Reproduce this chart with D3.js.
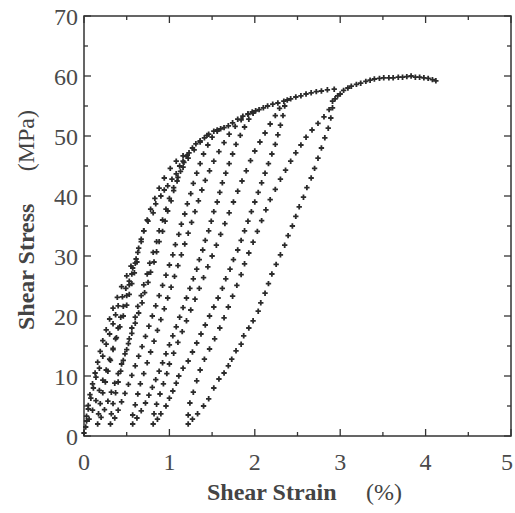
<!DOCTYPE html>
<html>
<head>
<meta charset="utf-8">
<script src="https://cdn.jsdelivr.net/npm/d3@7"></script>
<style>
  html, body { margin: 0; padding: 0; background: #fff; }
  svg { display: block; }
  .tick-label { font-family: "Liberation Serif", "Times New Roman", serif; font-size: 24px; fill: #4a4a4a; }
  .axis-title { font-family: "Liberation Serif", "Times New Roman", serif; font-size: 24px; fill: #444; }
</style>
</head>
<body>
<svg id="chart" width="515" height="513"></svg>
<script>
// Data: [shear strain (%), shear stress (MPa)]
const envelope = [
  [0.0, 0.5], [0.03, 2.5], [0.05, 4.5], [0.08, 6.3], [0.11, 8], [0.14, 9.8], [0.18, 11.3], [0.22, 13.3],
  [0.26, 15.3], [0.3, 17], [0.34, 18.7], [0.37, 20.2], [0.4, 21.7], [0.45, 23.2], [0.49, 24.6], [0.53, 25.8],
  [0.57, 28], [0.61, 29.5], [0.64, 31.3], [0.67, 32.8], [0.7, 34.2], [0.75, 35.8], [0.81, 37.2], [0.84, 38.7],
  [0.9, 40], [0.94, 41], [0.98, 41.7], [1.03, 42.8], [1.08, 43.7], [1.12, 45], [1.16, 45.8], [1.2, 46.6],
  [1.23, 47.2], [1.27, 48], [1.31, 48.7], [1.36, 49.2], [1.41, 49.7], [1.46, 50.3], [1.52, 50.8], [1.56, 51],
  [1.6, 51.2], [1.64, 51.4], [1.69, 51.7], [1.74, 52.2], [1.8, 52.8], [1.86, 53.3], [1.92, 53.7], [1.97, 54],
  [2.01, 54.2], [2.05, 54.4], [2.1, 54.7], [2.15, 55], [2.21, 55.3], [2.27, 55.5], [2.34, 55.8], [2.38, 56],
  [2.42, 56.2], [2.48, 56.5], [2.54, 56.7], [2.6, 57], [2.66, 57.2], [2.72, 57.4], [2.78, 57.5], [2.85, 57.7],
  [2.93, 57.8], [3.0, 57], [3.04, 57.6], [3.09, 58], [3.13, 58.3], [3.19, 58.6], [3.24, 58.8], [3.3, 59.1],
  [3.35, 59.3], [3.4, 59.5], [3.46, 59.6], [3.51, 59.7], [3.57, 59.7], [3.62, 59.7], [3.68, 59.8], [3.73, 59.8],
  [3.78, 59.9], [3.83, 60], [3.88, 59.8], [3.93, 59.8], [3.98, 59.7], [4.03, 59.6], [4.08, 59.4], [4.12, 59.2]
];

const loop0Left = [
  [0.02, 1.5], [0.03, 3.3], [0.05, 5.1], [0.07, 6.9], [0.1, 8.7], [0.13, 10.5], [0.16, 12.3], [0.19, 14.1],
  [0.22, 15.9], [0.26, 17.7], [0.3, 19.5], [0.34, 21.3], [0.39, 23.1], [0.44, 24.9], [0.5, 26.7], [0.55, 28.3]
];
const loop0Right = [
  [0.06, 2.8], [0.1, 4.3], [0.14, 5.9], [0.18, 7.6], [0.22, 9.3], [0.26, 11], [0.3, 12.8], [0.34, 14.6],
  [0.38, 16.4], [0.42, 18.2], [0.46, 20], [0.5, 21.8], [0.53, 23.6], [0.56, 25.4], [0.59, 27.2], [0.62, 29]
];

const loop1Left = [
  [0.16, 2], [0.17, 3.7], [0.19, 5.4], [0.22, 7.2], [0.25, 9], [0.28, 10.8], [0.31, 12.6], [0.34, 14.4],
  [0.37, 16.2], [0.4, 18], [0.43, 19.8], [0.46, 21.6], [0.5, 23.4], [0.53, 25.2], [0.56, 27], [0.6, 28.8],
  [0.63, 30.6], [0.67, 32.4], [0.7, 34.2], [0.74, 36], [0.78, 37.8], [0.83, 39.6], [0.88, 41.3], [0.94, 43],
  [1.01, 44.6], [1.08, 45.8], [1.16, 46.7]
];
const loop1Right = [
  [0.2, 3.1], [0.24, 4.4], [0.28, 5.8], [0.32, 7.3], [0.36, 8.8], [0.4, 10.4], [0.44, 12], [0.48, 13.7],
  [0.52, 15.4], [0.56, 17.1], [0.6, 18.8], [0.64, 20.5], [0.68, 22.2], [0.71, 23.9], [0.75, 25.6], [0.78, 27.3],
  [0.82, 29], [0.85, 30.7], [0.88, 32.4], [0.92, 34.1], [0.95, 35.8], [0.98, 37.5], [1.02, 39.2], [1.05, 40.9],
  [1.09, 42.5], [1.13, 44.1], [1.17, 45.6], [1.21, 46.8]
];

const loop2Left = [
  [0.31, 2], [0.32, 3.7], [0.34, 5.4], [0.37, 7.2], [0.4, 9], [0.43, 10.8], [0.46, 12.6], [0.5, 14.4],
  [0.53, 16.2], [0.56, 18], [0.6, 19.8], [0.63, 21.6], [0.67, 23.4], [0.7, 25.2], [0.74, 27], [0.77, 28.8],
  [0.81, 30.6], [0.85, 32.4], [0.88, 34.2], [0.92, 36], [0.96, 37.8], [1.0, 39.6], [1.05, 41.4], [1.1, 43.1],
  [1.16, 44.8], [1.22, 46.3], [1.29, 47.7], [1.36, 49], [1.44, 50.1]
];
const loop2Right = [
  [0.36, 3], [0.4, 4.3], [0.44, 5.7], [0.48, 7.1], [0.52, 8.6], [0.56, 10.1], [0.6, 11.7], [0.64, 13.3],
  [0.68, 14.9], [0.72, 16.6], [0.76, 18.3], [0.8, 20], [0.84, 21.7], [0.88, 23.4], [0.92, 25.1], [0.96, 26.8],
  [1.0, 28.5], [1.04, 30.2], [1.07, 31.9], [1.11, 33.6], [1.14, 35.3], [1.18, 37], [1.21, 38.7], [1.25, 40.4],
  [1.28, 42.1], [1.32, 43.8], [1.36, 45.4], [1.4, 47], [1.45, 48.5], [1.5, 49.8], [1.56, 50.8]
];

const loop3Left = [
  [0.57, 2], [0.57, 3.5], [0.6, 5.2], [0.63, 7], [0.66, 8.7], [0.7, 10.4], [0.74, 12.2], [0.78, 14],
  [0.82, 15.8], [0.86, 17.6], [0.9, 19.4], [0.94, 21.2], [0.98, 23], [1.02, 24.8], [1.06, 26.6], [1.1, 28.4],
  [1.14, 30.2], [1.18, 32], [1.22, 33.8], [1.26, 35.6], [1.3, 37.4], [1.34, 39.2], [1.38, 41], [1.42, 42.6],
  [1.47, 44.2], [1.52, 45.8], [1.58, 47.4], [1.64, 48.9], [1.7, 50.3], [1.77, 51.6], [1.84, 52.7], [1.92, 53.6]
];
const loop3Right = [
  [0.62, 3], [0.67, 4.2], [0.72, 5.5], [0.76, 6.8], [0.8, 8.1], [0.84, 9.4], [0.88, 10.8], [0.92, 12.2],
  [0.96, 13.7], [1.0, 15.2], [1.04, 16.7], [1.08, 18.2], [1.12, 19.8], [1.16, 21.4], [1.2, 23], [1.24, 24.6],
  [1.28, 26.2], [1.32, 27.8], [1.35, 29.4], [1.39, 31], [1.42, 32.6], [1.46, 34.2], [1.49, 35.8], [1.52, 37.4],
  [1.56, 39], [1.59, 40.6], [1.62, 42.2], [1.66, 43.8], [1.7, 45.4], [1.74, 47], [1.78, 48.6], [1.83, 50.1],
  [1.88, 51.5], [1.93, 52.8], [1.98, 53.8]
];

const loop4Left = [
  [0.81, 2], [0.82, 3.7], [0.85, 5.3], [0.89, 7], [0.93, 8.7], [0.97, 10.4], [1.0, 12], [1.05, 13.8],
  [1.1, 15.6], [1.15, 17.4], [1.2, 19.2], [1.25, 21], [1.3, 22.8], [1.35, 24.6], [1.4, 26.4], [1.45, 28.2],
  [1.5, 30], [1.55, 31.8], [1.6, 33.6], [1.65, 35.4], [1.7, 37.2], [1.75, 39], [1.8, 40.8], [1.85, 42.5],
  [1.9, 44.2], [1.95, 45.9], [2.0, 47.5], [2.06, 49], [2.12, 50.5], [2.18, 52], [2.24, 53.4], [2.29, 54.6]
];
const loop4Right = [
  [0.86, 2.8], [0.9, 3.7], [0.96, 5], [1.0, 6.3], [1.04, 7.5], [1.08, 8.8], [1.11, 10], [1.16, 11.3],
  [1.22, 12.5], [1.27, 14], [1.32, 15.5], [1.37, 17], [1.42, 18.5], [1.47, 20], [1.52, 21.5], [1.57, 23],
  [1.62, 24.6], [1.66, 26.2], [1.71, 27.8], [1.75, 29.4], [1.8, 31], [1.84, 32.6], [1.88, 34.2], [1.92, 35.8],
  [1.96, 37.4], [2.0, 39], [2.04, 40.6], [2.08, 42.2], [2.12, 43.8], [2.16, 45.4], [2.2, 47], [2.24, 48.6],
  [2.27, 50.2], [2.3, 51.8], [2.33, 53.4], [2.35, 55]
];

const loop5Left = [
  [1.22, 2], [1.22, 3.5], [1.24, 5.5], [1.28, 7.3], [1.32, 9.2], [1.36, 11], [1.41, 12.8], [1.47, 14.5],
  [1.53, 16.2], [1.59, 18], [1.64, 19.7], [1.69, 21.5], [1.74, 23.3], [1.79, 25.1], [1.84, 26.9], [1.88, 28.7],
  [1.93, 30.5], [1.98, 32.3], [2.03, 34.1], [2.08, 35.9], [2.13, 37.7], [2.18, 39.4], [2.24, 41.1], [2.3, 42.8],
  [2.36, 44.3], [2.42, 45.8], [2.48, 47.2], [2.54, 48.5], [2.6, 49.8], [2.67, 51], [2.74, 52.1], [2.81, 53.2],
  [2.87, 54.4], [2.91, 55.8]
];
const loop5Right = [
  [1.27, 2.8], [1.33, 3.7], [1.4, 5], [1.46, 6.2], [1.52, 8], [1.58, 9.5], [1.64, 10.5], [1.69, 11.7],
  [1.73, 12.8], [1.78, 14.2], [1.84, 15.3], [1.87, 16.7], [1.93, 18], [1.98, 19.2], [2.04, 20.8], [2.07, 22.2],
  [2.12, 23.8], [2.16, 25.4], [2.2, 27], [2.25, 28.6], [2.3, 30.2], [2.35, 31.8], [2.39, 33.4], [2.44, 35],
  [2.48, 36.6], [2.52, 38.2], [2.57, 39.8], [2.61, 41.4], [2.66, 43], [2.7, 44.6], [2.74, 46.3], [2.78, 48],
  [2.82, 49.7], [2.86, 51.3], [2.89, 53], [2.91, 54.7], [2.94, 56.2], [2.97, 56.7]
];

const xTicks = [0, 1, 2, 3, 4, 5];
const yTicks = [0, 10, 20, 30, 40, 50, 60, 70];

const series = [envelope, loop0Left, loop0Right, loop1Left, loop1Right, loop2Left, loop2Right,
  loop3Left, loop3Right, loop4Left, loop4Right, loop5Left, loop5Right];

const margin = { left: 84, top: 16, right: 4, bottom: 77 };
const width = 515 - margin.left - margin.right;
const height = 513 - margin.top - margin.bottom;

const svg = d3.select('#chart');
const g = svg.append('g').attr('transform', `translate(${margin.left},${margin.top})`);

const x = d3.scaleLinear().domain([0, 5]).range([0, width]);
const y = d3.scaleLinear().domain([0, 70]).range([height, 0]);

// Frame
g.append('rect')
  .attr('width', width).attr('height', height)
  .attr('fill', 'none').attr('stroke', '#333').attr('stroke-width', 1.5);

// Inward ticks on all four sides, minor ticks every half step
const xMinor = d3.range(0.5, 5, 1);
const yMinor = d3.range(5, 70, 10);
const tick = g.append('g').attr('stroke', '#333').attr('stroke-width', 1.3);
xTicks.forEach(v => {
  tick.append('line').attr('x1', x(v)).attr('x2', x(v)).attr('y1', height).attr('y2', height - 7);
  tick.append('line').attr('x1', x(v)).attr('x2', x(v)).attr('y1', 0).attr('y2', 7);
});
xMinor.forEach(v => {
  tick.append('line').attr('x1', x(v)).attr('x2', x(v)).attr('y1', height).attr('y2', height - 4);
  tick.append('line').attr('x1', x(v)).attr('x2', x(v)).attr('y1', 0).attr('y2', 4);
});
yTicks.forEach(v => {
  tick.append('line').attr('y1', y(v)).attr('y2', y(v)).attr('x1', 0).attr('x2', 7);
  tick.append('line').attr('y1', y(v)).attr('y2', y(v)).attr('x1', width).attr('x2', width - 7);
});
yMinor.forEach(v => {
  tick.append('line').attr('y1', y(v)).attr('y2', y(v)).attr('x1', 0).attr('x2', 4);
  tick.append('line').attr('y1', y(v)).attr('y2', y(v)).attr('x1', width).attr('x2', width - 4);
});

// Tick labels (last x label kept inside the page)
g.selectAll('.xl').data(xTicks).enter().append('text')
  .attr('class', 'tick-label')
  .attr('x', d => d === 5 ? x(d) + 2 : x(d)).attr('y', height + 34)
  .attr('text-anchor', d => d === 5 ? 'end' : 'middle')
  .text(d => d);

g.selectAll('.yl').data(yTicks).enter().append('text')
  .attr('class', 'tick-label')
  .attr('x', -6).attr('y', d => y(d) + 9)
  .attr('text-anchor', 'end')
  .text(d => d);

// Axis titles
svg.append('text').attr('class', 'axis-title')
  .attr('x', 207).attr('y', 500).attr('font-weight', 'bold')
  .text('Shear Strain');
svg.append('text').attr('class', 'axis-title')
  .attr('x', 402).attr('y', 500).attr('text-anchor', 'end')
  .text('(%)');

const yTitle = svg.append('g').attr('transform', 'translate(34,0) rotate(-90)');
yTitle.append('text').attr('class', 'axis-title')
  .attr('x', -330).attr('font-weight', 'bold')
  .text('Shear Stress');
yTitle.append('text').attr('class', 'axis-title')
  .attr('x', -110).attr('text-anchor', 'end')
  .text('(MPa)');

// Data markers
const cross = d3.symbol().type(d3.symbolCross).size(16);
g.append('g').selectAll('g')
  .data(series)
  .enter().append('g')
  .selectAll('path')
  .data(d => d)
  .enter().append('path')
  .attr('d', cross)
  .attr('transform', d => `translate(${x(d[0])},${y(d[1])})`)
  .attr('fill', '#2b2b2b');
</script>
</body>
</html>
